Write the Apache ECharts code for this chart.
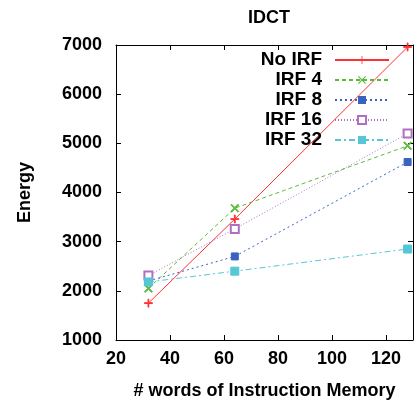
<!DOCTYPE html>
<html lang="en">
<head>
    <meta charset="UTF-8">
    <title>IDCT</title>
    <script src="https://cdn.jsdelivr.net/npm/echarts@6/dist/echarts.min.js"></script>
</head>
<body style="margin:0">
<div id="main" style="width: 415px;height:405px;"></div>
<script>
    // data
    var memWords = [32, 64, 128];
    var noIrf = [1750, 3460, 6960];
    var irf4 = [2050, 3680, 4950];
    var irf8 = [2200, 2700, 4620];
    var irf16 = [2310, 3260, 5200];
    var irf32 = [2180, 2400, 2850];
    var seriesNames = ['No IRF', 'IRF 4', 'IRF 8', 'IRF 16', 'IRF 32'];

    var FONT = 'Liberation Sans';

    // gnuplot-ish point shapes
    var plusSym = 'path://M4.5,0H5.5V4.5H10V5.5H5.5V10H4.5V5.5H0V4.5H4.5Z';
    var crossSym = 'path://M0,1L1,0L5,4L9,0L10,1L6,5L10,9L9,10L5,6L1,10L0,9L4,5Z';
    var starSym = 'path://M0,0H10V10H0Z M1,2L2,1L5,4L8,1L9,2L6,5L9,8L8,9L5,6L2,9L1,8L4,5Z';

    var pairs = function (ys) {
        var res = [];
        for (var i = 0; i < memWords.length; i++) {
            res.push([memWords[i], ys[i]]);
        }
        return res;
    };

    var myChart = echarts.init(document.getElementById('main'));

    var tickStyle = {inside: true, length: 5, lineStyle: {color: '#000'}};
    var axisLineStyle = {show: true, lineStyle: {color: '#000', width: 1}};

    var mk = function (name, ys, color, dash, symbol, size) {
        return {
            name: name,
            type: 'line',
            data: pairs(ys),
            symbol: symbol,
            symbolSize: size,
            showAllSymbol: true,
            lineStyle: {color: color, width: 1, type: dash},
            itemStyle: {color: color, borderColor: color},
            emphasis: {disabled: true},
            z: 3
        };
    };

    var option = {
        animation: false,
        textStyle: {fontFamily: FONT},
        title: {
            text: 'IDCT',
            left: 264,
            textAlign: 'center',
            top: 4,
            textStyle: {fontFamily: FONT, fontWeight: 'bold', fontSize: 18, color: '#000'}
        },
        legend: {
            data: seriesNames,
            orient: 'vertical',
            align: 'right',
            right: 20,
            top: 45,
            itemWidth: 54,
            itemHeight: 10,
            itemGap: 0,
            textStyle: {fontFamily: FONT, fontWeight: 'bold', fontSize: 19, color: '#000', lineHeight: 20, padding: [0, 8, 0, 0]},
            selectedMode: false
        },
        grid: {left: 116, right: 2, top: 45, bottom: 63},
        xAxis: [{
            type: 'value',
            min: 20,
            max: 130,
            interval: 20,
            name: '# words of Instruction Memory',
            nameLocation: 'middle',
            nameGap: 42,
            nameTextStyle: {fontFamily: FONT, fontWeight: 'bold', fontSize: 18, color: '#000'},
            axisLine: axisLineStyle,
            axisTick: tickStyle,
            axisLabel: {fontFamily: FONT, fontWeight: 'bold', fontSize: 18, color: '#000', margin: 10, showMaxLabel: false},
            splitLine: {show: false}
        }, {
            type: 'value',
            position: 'top',
            min: 20,
            max: 130,
            interval: 20,
            axisLine: axisLineStyle,
            axisTick: tickStyle,
            axisLabel: {show: false},
            splitLine: {show: false}
        }],
        yAxis: [{
            type: 'value',
            min: 1000,
            max: 7000,
            interval: 1000,
            name: 'Energy',
            nameLocation: 'middle',
            nameGap: 82,
            nameTextStyle: {fontFamily: FONT, fontWeight: 'bold', fontSize: 18, color: '#000'},
            axisLine: axisLineStyle,
            axisTick: tickStyle,
            axisLabel: {
                fontFamily: FONT, fontWeight: 'bold', fontSize: 18, color: '#000', margin: 14,
                formatter: function (v) { return String(v); }
            },
            splitLine: {show: false}
        }, {
            type: 'value',
            position: 'right',
            min: 1000,
            max: 7000,
            interval: 1000,
            axisLine: axisLineStyle,
            axisTick: tickStyle,
            axisLabel: {show: false},
            splitLine: {show: false}
        }],
        series: [
            mk('No IRF', noIrf, '#ff3030', 'solid', plusSym, 8),
            mk('IRF 4', irf4, '#5cb83a', [4, 3], crossSym, 8),
            mk('IRF 8', irf8, '#3a63c0', [2, 3], starSym, 7),
            mk('IRF 16', irf16, '#b070c0', [1, 2], 'emptyRect', 8),
            mk('IRF 32', irf32, '#55c6d6', [6, 3, 2, 3], 'rect', 8)
        ]
    };

    myChart.setOption(option);
</script>
</body>
</html>
